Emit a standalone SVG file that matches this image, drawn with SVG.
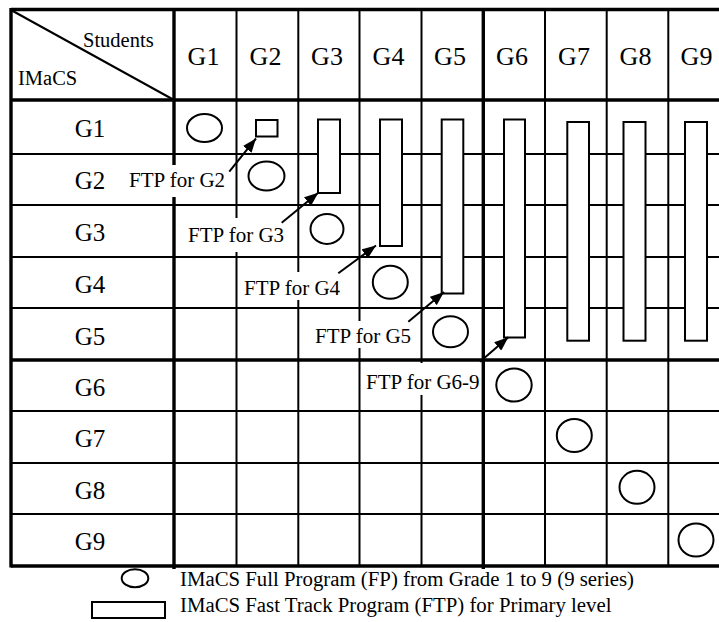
<svg xmlns="http://www.w3.org/2000/svg" width="719" height="622" viewBox="0 0 719 622" font-family="'Liberation Serif', 'DejaVu Serif', serif">
<defs>
<style>
text{font-family:'Liberation Serif','DejaVu Serif',serif;fill:#000}
.thick{stroke:#000;stroke-width:3.4;fill:none}
.thin{stroke:#000;stroke-width:2;fill:none}
.hdr{font-size:26px;text-anchor:middle}
.row{font-size:25px;text-anchor:middle}
.small{font-size:20.5px}
.leg{font-size:20.8px}
.lbl{font-size:21px}
.box{fill:#fff;stroke:none}
.fp{fill:#fff;stroke:#000;stroke-width:2}
.ftp{fill:#fff;stroke:#000;stroke-width:2}
.arrow{stroke:#000;stroke-width:2;fill:none;marker-end:url(#ah)}
</style>
<marker id="ah" markerUnits="userSpaceOnUse" markerWidth="15" markerHeight="11" refX="14" refY="5.5" orient="auto">
<path d="M0,0 L14,5.5 L0,11 Z" fill="#000"/>
</marker>
</defs>

<g id="grid">
<line class="thin" x1="11" y1="154" x2="730" y2="154"/>
<line class="thin" x1="11" y1="205" x2="730" y2="205"/>
<line class="thin" x1="11" y1="257" x2="730" y2="257"/>
<line class="thin" x1="11" y1="308" x2="730" y2="308"/>
<line class="thin" x1="11" y1="411" x2="730" y2="411"/>
<line class="thin" x1="11" y1="463" x2="730" y2="463"/>
<line class="thin" x1="11" y1="514" x2="730" y2="514"/>
<line class="thin" x1="236.5" y1="9.5" x2="236.5" y2="566"/>
<line class="thin" x1="298.3" y1="9.5" x2="298.3" y2="566"/>
<line class="thin" x1="359.5" y1="9.5" x2="359.5" y2="566"/>
<line class="thin" x1="421.5" y1="9.5" x2="421.5" y2="566"/>
<line class="thin" x1="545" y1="9.5" x2="545" y2="566"/>
<line class="thin" x1="606.7" y1="9.5" x2="606.7" y2="566"/>
<line class="thin" x1="668.3" y1="9.5" x2="668.3" y2="566"/>
<line class="thick" x1="11" y1="9.5" x2="730" y2="9.5"/>
<line class="thick" x1="11" y1="100" x2="730" y2="100"/>
<line class="thick" x1="11" y1="360" x2="730" y2="360"/>
<line class="thick" x1="11" y1="566" x2="730" y2="566"/>
<line class="thick" x1="11" y1="8" x2="11" y2="567.5"/>
<line class="thick" x1="174" y1="8" x2="174" y2="569"/>
<line class="thick" x1="483.3" y1="8" x2="483.3" y2="569"/>
<line class="thick" x1="730" y1="8" x2="730" y2="567.5"/>
<line stroke="#000" stroke-width="2" x1="11" y1="10" x2="174" y2="100"/>
</g>

<g id="header">
<text class="small" x="83" y="47">Students</text>
<text class="small" x="18" y="85">IMaCS</text>
<text class="hdr" x="203.5" y="65">G1</text>
<text class="hdr" x="265.5" y="65">G2</text>
<text class="hdr" x="327" y="65">G3</text>
<text class="hdr" x="388.5" y="65">G4</text>
<text class="hdr" x="450" y="65">G5</text>
<text class="hdr" x="512" y="65">G6</text>
<text class="hdr" x="574" y="65">G7</text>
<text class="hdr" x="635.5" y="65">G8</text>
<text class="hdr" x="696.5" y="65">G9</text>
</g>

<g id="rowlabels">
<text class="row" x="90" y="137">G1</text>
<text class="row" x="90" y="189">G2</text>
<text class="row" x="90" y="241">G3</text>
<text class="row" x="90" y="293">G4</text>
<text class="row" x="90" y="345">G5</text>
<text class="row" x="90" y="396">G6</text>
<text class="row" x="90" y="447">G7</text>
<text class="row" x="90" y="499">G8</text>
<text class="row" x="90" y="550">G9</text>
</g>

<g id="ftp-programs">
<rect class="ftp" x="256" y="120" width="21.5" height="16.5"/>
<rect class="ftp" x="318" y="119.5" width="22" height="73.5"/>
<rect class="ftp" x="380" y="119.5" width="22" height="126.5"/>
<rect class="ftp" x="441.7" y="119.5" width="21.6" height="174"/>
<rect class="ftp" x="504" y="119.5" width="21" height="218"/>
<rect class="ftp" x="567.3" y="122" width="21.7" height="218.7"/>
<rect class="ftp" x="623.5" y="122" width="22" height="218.7"/>
<rect class="ftp" x="685" y="122" width="22" height="218.7"/>
</g>

<g id="full-programs">
<ellipse class="fp" cx="204.5" cy="128" rx="17.5" ry="14"/>
<ellipse class="fp" cx="266.5" cy="176" rx="18" ry="14.5"/>
<ellipse class="fp" cx="327" cy="229" rx="16.5" ry="15"/>
<ellipse class="fp" cx="390.3" cy="282.3" rx="17.5" ry="16.5"/>
<ellipse class="fp" cx="450.5" cy="331.7" rx="17.5" ry="15.5"/>
<ellipse class="fp" cx="514" cy="385" rx="17.7" ry="16.5"/>
<ellipse class="fp" cx="574.3" cy="435.5" rx="17.5" ry="16.5"/>
<ellipse class="fp" cx="637" cy="487.3" rx="17.5" ry="16.5"/>
<ellipse class="fp" cx="696" cy="540" rx="17.5" ry="16.5"/>
</g>

<g id="label-g2">
<rect class="box" x="122" y="165" width="112" height="32"/>
<text class="lbl" x="129" y="187">FTP for G2</text>
</g>
<g id="label-g3">
<rect class="box" x="181" y="218" width="111" height="34"/>
<text class="lbl" x="188" y="242">FTP for G3</text>
</g>
<g id="label-g4">
<rect class="box" x="240" y="272" width="106" height="28"/>
<text class="lbl" x="244" y="295">FTP for G4</text>
</g>
<g id="label-g5">
<rect class="box" x="308" y="321" width="106" height="27"/>
<text class="lbl" x="315" y="343">FTP for G5</text>
</g>
<g id="label-g69">
<rect class="box" x="362" y="363" width="118" height="32"/>
<text class="lbl" x="366" y="389">FTP for G6-9</text>
</g>

<g id="connectors">
<line class="arrow" x1="229.3" y1="171.7" x2="256" y2="138.5"/>
<line class="arrow" x1="281.7" y1="222.7" x2="318.3" y2="192.7"/>
<line class="arrow" x1="338.3" y1="273.3" x2="376" y2="245.5"/>
<line class="arrow" x1="408.3" y1="321.7" x2="444" y2="292"/>
<line class="arrow" x1="480" y1="361.7" x2="508.3" y2="337.3"/>
</g>

<g id="legend">
<ellipse class="fp" cx="135" cy="578.3" rx="13.3" ry="9"/>
<text class="leg" x="180" y="586">IMaCS Full Program (FP) from Grade 1 to 9 (9 series)</text>
<rect class="ftp" x="92" y="602" width="73" height="16"/>
<text class="leg" x="180" y="612">IMaCS Fast Track Program (FTP) for Primary level</text>
</g>
</svg>
